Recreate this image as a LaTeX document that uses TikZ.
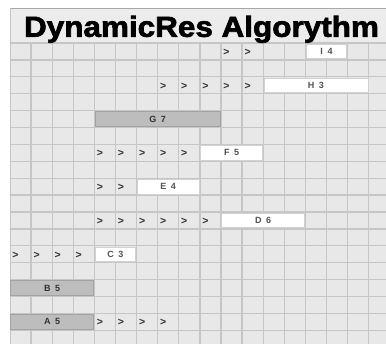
\documentclass[tikz,border=0pt]{standalone}
\usepackage{graphicx}
\usepackage{fontspec}
\setmainfont{Liberation Sans}
\newfontfamily\titlefont[BoldFeatures={FakeBold=2.2}]{Liberation Sans}

\definecolor{panelbg}{HTML}{E8E8E8}
\definecolor{headbg}{HTML}{ECECEC}
\definecolor{gridcol}{HTML}{C6C6C6}
\definecolor{edgecol}{HTML}{A8A8A8}
\definecolor{busyfill}{HTML}{BDBDBD}
\definecolor{busyedge}{HTML}{A2A2A2}
\definecolor{readyedge}{HTML}{D2D2D2}
\definecolor{inkcol}{HTML}{333333}

% grid geometry (pt): left edge, header bottom, cell width, row height
\def\gx{10}
\def\gy{43}
\def\cw{21.1}
\def\rh{16.9}

\tikzset{
  gridline/.style={draw=gridcol, line width=1.3pt},
  taskbox/.style={anchor=north west, inner sep=0pt, outer sep=0pt,
    minimum height=14.6pt, line width=0.8pt,
    font=\bfseries\fontsize{9}{9}\selectfont},
  readybox/.style={taskbox, fill=white, draw=readyedge, text=inkcol!85},
  busybox/.style={taskbox, fill=busyfill, draw=busyedge, text=inkcol},
  chev/.style={inner sep=0pt, text=inkcol, font=\bfseries\fontsize{10.5}{10.5}\selectfont},
}

% task bar: name, first column, last column (exclusive), row, style, label
\newcommand\taskbar[6]{%
  \node[#5, minimum width={\cw*(#3-#2)-1.6pt}]
    (#1) at ({\gx+\cw*#2+0.8},{\gy+\rh*#4+1.2}) {#6};}
% waiting marks: name prefix, row, list of columns
\newcommand\waitmarks[3]{%
  \foreach \c in {#3}
    \node[chev] (#1-\c) at ({\gx+\cw*\c+5.5},{\gy+\rh*#2+9.2}) {>};}

\begin{document}
\begin{tikzpicture}[x=1pt,y=-1pt]
  \useasboundingbox (0,0) rectangle (386,344);
  \fill[white] (0,0) rectangle (386,344);

  % panel and header
  \fill[panelbg] (\gx,8) rectangle (386,344);
  \fill[headbg] (\gx,8) rectangle (386,\gy);
  \draw[edgecol, line width=1.2pt] (\gx,8.6) -- (386,8.6);
  \draw[gridcol, line width=1pt] (\gx+0.5,8) -- (\gx+0.5,344);

  % grid
  \foreach \k in {1,...,17}
    \draw[gridline] ({\gx+\cw*\k},\gy) -- ({\gx+\cw*\k},344);
  \foreach \r in {0,...,17}
    \draw[gridline] (\gx,{\gy+\rh*\r}) -- (386,{\gy+\rh*\r});

  % title
  \node[anchor=base, inner sep=0pt, text=black,
        font=\titlefont\bfseries\fontsize{29}{30}\selectfont]
    (title) at (201.5,36.8) {\scalebox{1.085}[1]{DynamicRes Algorythm}};

  % schedule rows
  \waitmarks{w0}{0}{10,11}
  \taskbar{I4}{14}{16}{0}{readybox}{I\hspace{4.5pt}4}

  \waitmarks{w2}{2}{7,8,9,10,11}
  \taskbar{H3}{12}{17}{2}{readybox}{H\hspace{4.5pt}3}

  \taskbar{G7}{4}{10}{4}{busybox}{G\hspace{4.5pt}7}

  \waitmarks{w6}{6}{4,5,6,7,8}
  \taskbar{F5}{9}{12}{6}{readybox}{F\hspace{4.5pt}5}

  \waitmarks{w8}{8}{4,5}
  \taskbar{E4}{6}{9}{8}{readybox}{E\hspace{4.5pt}4}

  \waitmarks{w10}{10}{4,5,6,7,8,9}
  \taskbar{D6}{10}{14}{10}{readybox}{D\hspace{4.5pt}6}

  \waitmarks{w12}{12}{0,1,2,3}
  \taskbar{C3}{4}{6}{12}{readybox}{C\hspace{4.5pt}3}

  \taskbar{B5}{0}{4}{14}{busybox}{B\hspace{4.5pt}5}

  \taskbar{A5}{0}{4}{16}{busybox}{A\hspace{4.5pt}5}
  \waitmarks{w16}{16}{4,5,6,7}
\end{tikzpicture}
\end{document}
